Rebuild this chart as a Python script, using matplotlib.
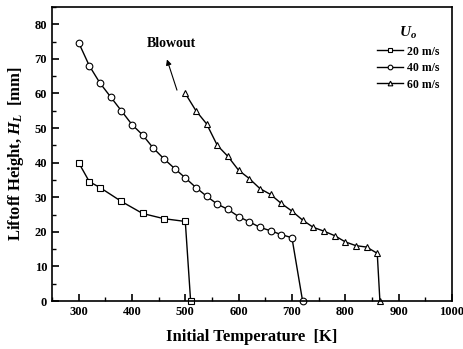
import matplotlib
matplotlib.use("Agg")
import matplotlib.pyplot as plt
from matplotlib.ticker import MultipleLocator

plt.rcParams['font.family'] = ['Liberation Serif', 'DejaVu Serif']
plt.rcParams['font.weight'] = 'bold'
plt.rcParams['mathtext.fontset'] = 'custom'
plt.rcParams['mathtext.it'] = 'Liberation Serif:italic:bold'
plt.rcParams['mathtext.rm'] = 'Liberation Serif:bold'

### DATA

# 20 m/s
t20 = [300, 320, 340, 380, 420, 460, 500, 510]
h20 = [40, 34.5, 32.8, 28.8, 25.3, 23.8, 23, 0]

# 40 m/s
t40 = [300, 320, 340, 360, 380, 400, 420, 440, 460, 480, 500,
       520, 540, 560, 580, 600, 620, 640, 660, 680, 700, 720]
h40 = [74.7, 68, 63, 59, 55, 51, 48, 44.2, 41.1, 38.3, 35.6,
       32.8, 30.3, 28, 26.5, 24.4, 22.9, 21.3, 20.3, 19.2, 18.3, 0]

# 60 m/s
t60 = [500, 520, 540, 560, 580, 600, 620, 640, 660, 680,
       700, 720, 740, 760, 780, 800, 820, 840, 860, 865]
h60 = [60, 55, 51.2, 45, 41.8, 37.8, 35.4, 32.5, 30.8, 28.2,
       26, 23.4, 21.3, 20.2, 18.9, 17.1, 16, 15.6, 13.8, 0]

labels = ['20 m/s', '40 m/s', '60 m/s']

### PLOT

fig = plt.figure(figsize=(4.63, 3.49), dpi=100)
ax = fig.add_axes([0.1123, 0.1375, 0.8637, 0.8425])

style = dict(color='black', lw=1.0, ms=4.8, mfc='white', mec='black', mew=0.8, clip_on=False)
ax.plot(t20, h20, marker='s', label=labels[0], **style)
ax.plot(t40, h40, marker='o', label=labels[1], **style)
ax.plot(t60, h60, marker='^', label=labels[2], **style)

ax.set_xlim(250, 1000)
ax.set_ylim(0, 85)
ax.xaxis.set_major_locator(MultipleLocator(100))
ax.xaxis.set_minor_locator(MultipleLocator(50))
ax.yaxis.set_major_locator(MultipleLocator(10))
ax.yaxis.set_minor_locator(MultipleLocator(5))
ax.tick_params(which='both', direction='in', top=False, right=False, labelsize=9)
ax.tick_params(which='major', length=5, width=1.2)
ax.tick_params(which='minor', length=3, width=1)
for lab in ax.get_xticklabels() + ax.get_yticklabels():
    lab.set_fontweight('bold')
for s in ax.spines.values():
    s.set_linewidth(1.2)

ax.set_xlabel('Initial Temperature  [K]', fontsize=12, fontweight='bold', labelpad=8)
ax.set_ylabel('Liftoff Height, $H_L$  [mm]', fontsize=12, fontweight='bold', labelpad=6)

# blowout arrow
ax.annotate('', xy=(464, 70.6), xytext=(486, 60.2),
            arrowprops=dict(arrowstyle='-|>', color='black', lw=0.8, mutation_scale=8))
ax.text(474, 74.3, 'Blowout', fontsize=10, fontweight='bold', ha='center', va='center')

leg = ax.legend(title='$U_o$', loc='upper right', bbox_to_anchor=(0.995, 0.975),
                frameon=False, fontsize=8.5, handlelength=2.2, handletextpad=0.3,
                labelspacing=0.38, markerscale=0.7)
leg.get_title().set_fontsize(11)
for t in leg.get_texts():
    t.set_fontweight('bold')

fig.savefig('out.png', dpi=100)
